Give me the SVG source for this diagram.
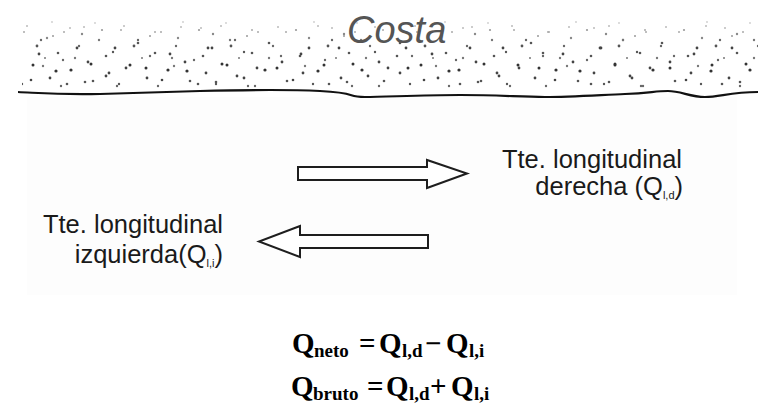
<svg xmlns="http://www.w3.org/2000/svg" width="758" height="406" viewBox="0 0 758 406">
<style>
.lbl{font-family:"Liberation Sans",Arial,sans-serif;font-size:25.5px;fill:#1a1a1a}
.sub{font-size:11px}
.arrow{fill:#fff;stroke:#1e1e1e;stroke-width:2;stroke-linejoin:miter}
.eq{font-family:"Liberation Serif","Times New Roman",serif;font-weight:bold;font-size:29px;fill:#000}
.eqs{font-size:19px}
</style>
<defs>
<pattern id="dotsA" patternUnits="userSpaceOnUse" x="0" y="18" width="97" height="71">
<circle cx="5" cy="12" r="1.1" fill="#999"/><circle cx="18" cy="30" r="1.4" fill="#444"/><circle cx="27" cy="8" r="1" fill="#bbb"/><circle cx="33" cy="47" r="1.5" fill="#333"/><circle cx="41" cy="22" r="1.2" fill="#666"/><circle cx="50" cy="60" r="1.4" fill="#444"/><circle cx="58" cy="35" r="1.3" fill="#555"/><circle cx="64" cy="14" r="1" fill="#aaa"/><circle cx="71" cy="52" r="1.6" fill="#333"/><circle cx="79" cy="28" r="1.2" fill="#666"/><circle cx="88" cy="44" r="1.4" fill="#444"/><circle cx="93" cy="63" r="1.3" fill="#555"/><circle cx="12" cy="55" r="1.4" fill="#444"/><circle cx="22" cy="66" r="1.2" fill="#555"/><circle cx="45" cy="40" r="1" fill="#777"/><circle cx="84" cy="9" r="1" fill="#bbb"/><circle cx="37" cy="28" r="1.4" fill="#555"/><circle cx="9" cy="38" r="1.3" fill="#555"/><circle cx="61" cy="68" r="1.2" fill="#666"/><circle cx="75" cy="40" r="1.2" fill="#777"/><circle cx="53" cy="18" r="1" fill="#999"/>
</pattern>
<pattern id="dotsB" patternUnits="userSpaceOnUse" x="0" y="18" width="131" height="71">
<circle cx="7" cy="25" r="1.3" fill="#555"/><circle cx="15" cy="50" r="1.5" fill="#333"/><circle cx="24" cy="14" r="1" fill="#aaa"/><circle cx="31" cy="62" r="1.3" fill="#444"/><circle cx="39" cy="36" r="1.4" fill="#444"/><circle cx="47" cy="20" r="1.2" fill="#888"/><circle cx="56" cy="53" r="1.6" fill="#333"/><circle cx="63" cy="42" r="1.2" fill="#666"/><circle cx="70" cy="10" r="1" fill="#bbb"/><circle cx="77" cy="30" r="1.4" fill="#444"/><circle cx="85" cy="64" r="1.3" fill="#555"/><circle cx="91" cy="46" r="1.5" fill="#333"/><circle cx="99" cy="22" r="1.2" fill="#777"/><circle cx="106" cy="58" r="1.4" fill="#444"/><circle cx="113" cy="34" r="1.2" fill="#555"/><circle cx="121" cy="12" r="1" fill="#aaa"/><circle cx="126" cy="50" r="1.4" fill="#444"/><circle cx="19" cy="38" r="1.2" fill="#666"/><circle cx="52" cy="4" r="0.9" fill="#ccc"/><circle cx="95" cy="5" r="0.9" fill="#ccc"/><circle cx="67" cy="66" r="1.3" fill="#555"/><circle cx="117" cy="68" r="1.2" fill="#666"/><circle cx="43" cy="48" r="1.2" fill="#777"/><circle cx="82" cy="16" r="1.2" fill="#888"/>
</pattern>
</defs>
<rect width="758" height="406" fill="#fff"/>
<rect x="27" y="97" width="710" height="198" fill="#fdfdfd"/>
<g id="coast">
<rect x="22" y="18" width="736" height="71" fill="url(#dotsA)"/>
<rect x="22" y="18" width="736" height="71" fill="url(#dotsB)"/>
<path d="M18,92 C40,93 60,95 100,94 S160,92 200,91 S280,89 320,91 S345,97 365,97 S420,95 460,95 S520,97 545,97 S600,95 625,94 S655,91 668,91 S690,97 705,97 S730,92 758,92" fill="none" stroke="#111" stroke-width="2.2"/>
<text x="347" y="43" font-family="'Liberation Sans',Arial,sans-serif" font-style="italic" font-size="38" fill="#555">Costa</text>
</g>
<g id="arrows">
<polygon id="arrow-right" class="arrow" points="298,167 427,167 427,160 467,173.5 427,188 427,180 298,180"/>
<polygon id="arrow-left" class="arrow" points="428,235 300,235 300,226 259,241.5 300,257 300,248 428,248"/>
</g>
<g id="label-right">
<text class="lbl" x="682" y="168" text-anchor="end">Tte. longitudinal</text>
<text class="lbl" x="683" y="195" text-anchor="end">derecha (Q<tspan class="sub" dy="4">l,d</tspan><tspan dy="-4">)</tspan></text>
</g>
<g id="label-left">
<text class="lbl" x="223" y="233" text-anchor="end">Tte. longitudinal</text>
<text class="lbl" x="223" y="263" text-anchor="end">izquierda(Q<tspan class="sub" dy="4">l,i</tspan><tspan dy="-4">)</tspan></text>
</g>
<g id="formulas">
<text class="eq" y="353"><tspan x="292">Q</tspan><tspan class="eqs" x="314" dy="4">neto</tspan><tspan x="359" dy="-4">=</tspan><tspan x="379">Q</tspan><tspan class="eqs" x="402" dy="4">l,d</tspan><tspan x="425" dy="-4">−</tspan><tspan x="446">Q</tspan><tspan class="eqs" x="469" dy="4">l,i</tspan></text>
<text class="eq" y="396"><tspan x="291">Q</tspan><tspan class="eqs" x="313" dy="4">bruto</tspan><tspan x="367" dy="-4">=</tspan><tspan x="386">Q</tspan><tspan class="eqs" x="409" dy="4">l,d</tspan><tspan x="430" dy="-4">+</tspan><tspan x="451">Q</tspan><tspan class="eqs" x="474" dy="4">l,i</tspan></text>
</g>
</svg>
